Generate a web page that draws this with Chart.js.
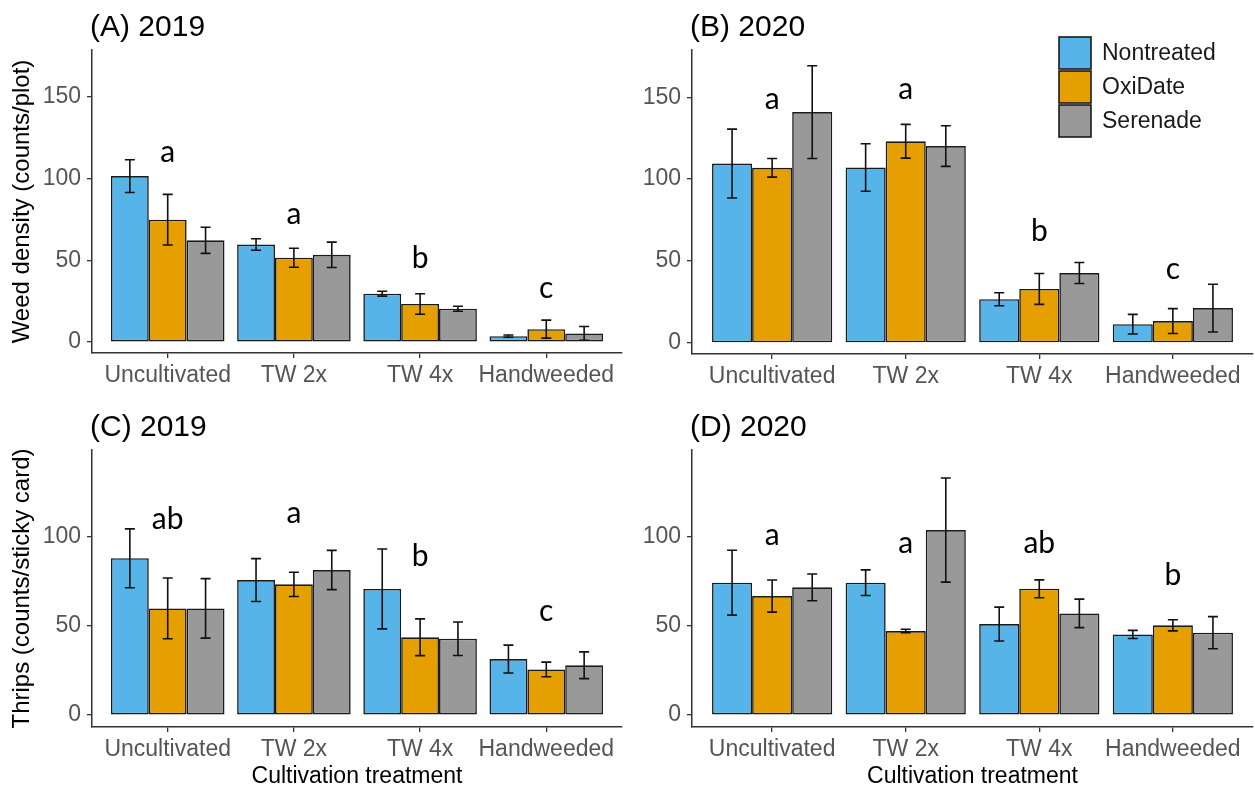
<!DOCTYPE html>
<html>
<head>
<meta charset="utf-8">
<script src="https://cdn.jsdelivr.net/npm/chart.js@4.4.1/dist/chart.umd.min.js"></script>
<style>
  html, body { margin: 0; padding: 0; background: #fff; }
  #wrap { position: relative; width: 1255px; height: 791px; overflow: hidden; }
  canvas { position: absolute; }
</style>
</head>
<body>
<div id="wrap">
  <canvas id="chartA" width="630" height="395" style="left:0;top:0"></canvas>
  <canvas id="chartB" width="625" height="395" style="left:630px;top:0"></canvas>
  <canvas id="chartC" width="630" height="396" style="left:0;top:395px"></canvas>
  <canvas id="chartD" width="625" height="396" style="left:630px;top:395px"></canvas>
</div>
<script>
const categories = ['Uncultivated', 'TW 2x', 'TW 4x', 'Handweeded'];
const seriesNames = ['Nontreated', 'OxiDate', 'Serenade'];
const seriesColors = ['#56B4E9', '#E69F00', '#999999'];

// (A) weed density 2019
const weed2019Nontreated = [101.6, 59.7, 29.6, 3.6];
const weed2019OxiDate = [74.9, 51.6, 23.3, 7.9];
const weed2019Serenade = [62.3, 53.4, 20.4, 5.3];
const weed2019NontreatedSe = [10, 3.5, 1.5, 0.7];
const weed2019OxiDateSe = [15.5, 5.8, 6.3, 5.5];
const weed2019SerenadeSe = [8, 7.8, 1.5, 4.2];
const weed2019Letters = ['a', 'a', 'b', 'c'];
const weed2019LetterY = [116, 78, 51, 33];

// (B) weed density 2020
const weed2020Nontreated = [109.5, 107.1, 26.7, 11.5];
const weed2020OxiDate = [106.9, 123.1, 33, 13.4];
const weed2020Serenade = [140.9, 120.2, 42.7, 21.3];
const weed2020NontreatedSe = [21, 14.5, 4, 6];
const weed2020OxiDateSe = [5.7, 10.3, 9.4, 7.6];
const weed2020SerenadeSe = [28.3, 12.4, 6.4, 14.6];
const weed2020Letters = ['a', 'a', 'b', 'c'];
const weed2020LetterY = [149, 155, 68, 45];

// (C) thrips 2019
const thrips2019Nontreated = [87.9, 75.7, 70.7, 31.4];
const thrips2019OxiDate = [59.8, 73.3, 43.6, 25.6];
const thrips2019Serenade = [59.8, 81.3, 42.8, 27.9];
const thrips2019NontreatedSe = [16.5, 12, 22.4, 7.8];
const thrips2019OxiDateSe = [17, 6.8, 10.3, 4.1];
const thrips2019SerenadeSe = [16.7, 11, 9.4, 7.5];
const thrips2019Letters = ['ab', 'a', 'b', 'c'];
const thrips2019LetterY = [110, 113, 89, 58];

// (D) thrips 2020
const thrips2020Nontreated = [74.2, 74.2, 51, 45.2];
const thrips2020OxiDate = [66.7, 47.1, 70.8, 50.3];
const thrips2020Serenade = [71.6, 103.7, 57, 46.2];
const thrips2020NontreatedSe = [18.2, 7.2, 9.5, 2.3];
const thrips2020OxiDateSe = [9, 1, 5, 3.1];
const thrips2020SerenadeSe = [7.5, 29.2, 8, 9];
const thrips2020Letters = ['a', 'a', 'ab', 'b'];
const thrips2020LetterY = [101, 96, 96, 78.5];

const weedTicks = [0, 50, 100, 150];
const thripsTicks = [0, 50, 100];

const FONT = "'Liberation Sans', Arial, sans-serif";
const axisColor = '#333333';
const tickColor = '#555555';

// error bars drawn on top of each bar
const errorBarPlugin = {
  id: 'errorBars',
  afterDatasetsDraw(chart) {
    const ctx = chart.ctx;
    const y = chart.scales.y;
    ctx.save();
    ctx.strokeStyle = '#111';
    ctx.lineWidth = 1.6;
    chart.data.datasets.forEach((ds, i) => {
      const meta = chart.getDatasetMeta(i);
      meta.data.forEach((bar, j) => {
        const v = ds.data[j].y;
        const e = ds.errors[j];
        const top = y.getPixelForValue(v + e);
        const bot = y.getPixelForValue(v - e);
        ctx.beginPath();
        ctx.moveTo(bar.x, top); ctx.lineTo(bar.x, bot);
        ctx.moveTo(bar.x - 5, top); ctx.lineTo(bar.x + 5, top);
        ctx.moveTo(bar.x - 5, bot); ctx.lineTo(bar.x + 5, bot);
        ctx.stroke();
      });
    });
    ctx.restore();
  }
};

function makePanel(id, p) {
  const extras = {
    id: 'extras',
    afterDraw(chart) {
      const ctx = chart.ctx;
      const area = chart.chartArea;
      const x = chart.scales.x, y = chart.scales.y;
      ctx.save();
      // panel title
      ctx.fillStyle = '#000';
      ctx.font = '30px ' + FONT;
      ctx.textAlign = 'left';
      ctx.textBaseline = 'alphabetic';
      ctx.fillText(p.title, area.left - 2, area.top - 14);
      // significance letters
      ctx.font = '30px Lato, sans-serif';
      ctx.textAlign = 'center';
      ctx.textBaseline = 'middle';
      p.letters.forEach((l, i) => {
        ctx.fillText(l, x.getPixelForValue(i + 1), y.getPixelForValue(p.letterY[i]));
      });
      // legend
      if (p.legend) {
        const lx = area.right - 194, ly = area.top - 13;
        ctx.font = '23px ' + FONT;
        ctx.textAlign = 'left';
        chart.data.datasets.forEach((ds, i) => {
          const by = ly + i * 34;
          ctx.fillStyle = ds.backgroundColor;
          ctx.fillRect(lx, by, 32, 32);
          ctx.strokeStyle = '#1a1a1a';
          ctx.lineWidth = 1.6;
          ctx.strokeRect(lx, by, 32, 32);
          ctx.fillStyle = '#1a1a1a';
          ctx.fillText(ds.label, lx + 43, by + 17);
        });
      }
      ctx.restore();
    }
  };

  return new Chart(document.getElementById(id), {
    type: 'bar',
    data: {
      datasets: seriesNames.map((name, s) => ({
        label: name,
        data: categories.map((c, i) => ({ x: i + 1, y: p.means[s][i] })),
        errors: p.errs[s],
        backgroundColor: seriesColors[s],
        borderColor: '#1a1a1a',
        borderWidth: 1.6,
        borderSkipped: false,
        categoryPercentage: 0.9,
        barPercentage: 1.0
      }))
    },
    options: {
      responsive: false,
      animation: false,
      layout: { padding: p.padding },
      plugins: { legend: { display: false }, tooltip: { enabled: false } },
      scales: {
        x: {
          type: 'linear',
          min: 0.4,
          max: 4.6,
          offset: false,
          afterBuildTicks: s => { s.ticks = categories.map((c, i) => ({ value: i + 1 })); },
          afterFit: s => { s.height = p.xAxisHeight; },
          ticks: {
            callback: v => categories[v - 1],
            color: tickColor,
            font: { family: FONT, size: 23 },
            padding: 4,
            maxRotation: 0,
            autoSkip: false
          },
          grid: { offset: false, drawOnChartArea: false, drawTicks: true, tickLength: 5, color: axisColor, lineWidth: 1.3 },
          border: { display: true, color: axisColor, width: 1.5 },
          title: {
            display: !!p.xTitle,
            text: p.xTitle || '',
            color: '#000',
            font: { family: FONT, size: 23 },
            padding: { top: 0, bottom: 1 }
          }
        },
        y: {
          min: p.yMin,
          max: p.yMax,
          afterBuildTicks: s => { s.ticks = p.yTicks.map(v => ({ value: v })); },
          afterFit: s => { s.width = p.yAxisWidth; },
          ticks: { color: tickColor, font: { family: FONT, size: 23 }, padding: 6 },
          grid: { drawOnChartArea: false, drawTicks: true, tickLength: 5, color: axisColor, lineWidth: 1.3 },
          border: { display: true, color: axisColor, width: 1.5 },
          title: {
            display: !!p.yTitle,
            text: p.yTitle || '',
            color: '#000',
            font: { family: FONT, size: 24 },
            padding: { top: 8, bottom: 0 }
          }
        }
      }
    },
    plugins: [errorBarPlugin, extras]
  });
}

makePanel('chartA', {
  title: '(A) 2019',
  means: [weed2019Nontreated, weed2019OxiDate, weed2019Serenade],
  errs: [weed2019NontreatedSe, weed2019OxiDateSe, weed2019SerenadeSe],
  letters: weed2019Letters, letterY: weed2019LetterY,
  yMin: -6.7, yMax: 178.8, yTicks: weedTicks,
  yTitle: 'Weed density (counts/plot)',
  padding: { left: 0, top: 50, right: 8, bottom: 0 },
  yAxisWidth: 92, xAxisHeight: 42
});

makePanel('chartB', {
  title: '(B) 2020',
  means: [weed2020Nontreated, weed2020OxiDate, weed2020Serenade],
  errs: [weed2020NontreatedSe, weed2020OxiDateSe, weed2020SerenadeSe],
  letters: weed2020Letters, letterY: weed2020LetterY,
  yMin: -6.7, yMax: 178.8, yTicks: weedTicks,
  legend: true,
  padding: { left: 0, top: 50, right: 2, bottom: 0 },
  yAxisWidth: 62, xAxisHeight: 41
});

makePanel('chartC', {
  title: '(C) 2019',
  means: [thrips2019Nontreated, thrips2019OxiDate, thrips2019Serenade],
  errs: [thrips2019NontreatedSe, thrips2019OxiDateSe, thrips2019SerenadeSe],
  letters: thrips2019Letters, letterY: thrips2019LetterY,
  yMin: -6.7, yMax: 148.6, yTicks: thripsTicks,
  yTitle: 'Thrips (counts/sticky card)',
  xTitle: 'Cultivation treatment',
  padding: { left: 0, top: 55, right: 8, bottom: 0 },
  yAxisWidth: 92, xAxisHeight: 64
});

makePanel('chartD', {
  title: '(D) 2020',
  means: [thrips2020Nontreated, thrips2020OxiDate, thrips2020Serenade],
  errs: [thrips2020NontreatedSe, thrips2020OxiDateSe, thrips2020SerenadeSe],
  letters: thrips2020Letters, letterY: thrips2020LetterY,
  yMin: -6.7, yMax: 148.6, yTicks: thripsTicks,
  xTitle: 'Cultivation treatment',
  padding: { left: 0, top: 55, right: 2, bottom: 0 },
  yAxisWidth: 62, xAxisHeight: 64
});
</script>
</body>
</html>
